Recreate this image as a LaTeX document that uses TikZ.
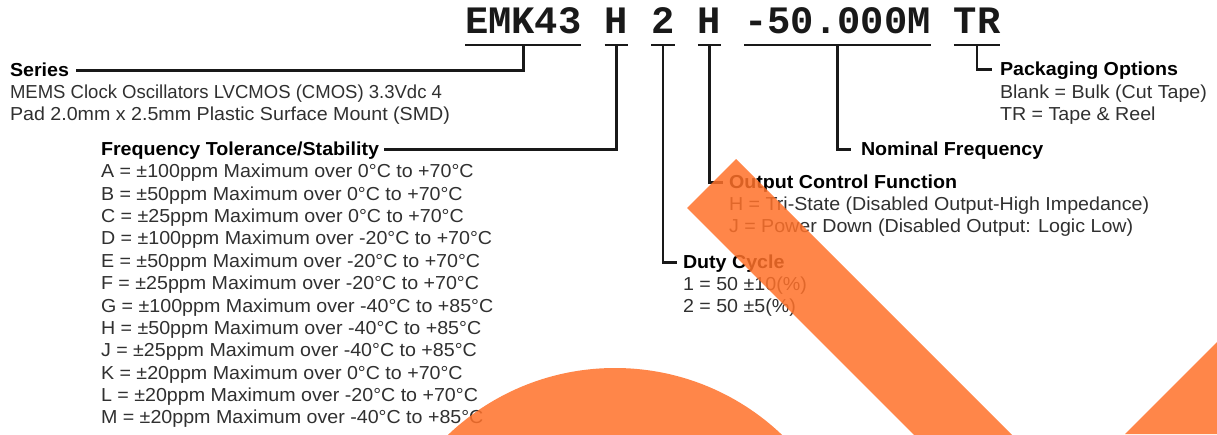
\documentclass[tikz,border=0pt]{standalone}
\usepackage{fontspec}
\setmainfont{Liberation Sans}[FakeStretch=1.045]
\newfontfamily\pnfont{Liberation Mono}
\definecolor{txt}{HTML}{303030}
\definecolor{wmorange}{RGB}{255,113,42}
\begin{document}
\begin{tikzpicture}[x=1pt,y=-1pt,
  body/.style={anchor=base west, inner sep=0pt, outer sep=0pt, text=txt, font=\fontsize{18.8}{22}\selectfont},
  head/.style={anchor=base west, inner sep=0pt, outer sep=0pt, text=black, font=\fontsize{18.8}{22}\selectfont\bfseries},
  pn/.style={anchor=base west, inner sep=0pt, outer sep=0pt, text=black!90, font=\fontsize{38.8}{40}\selectfont\pnfont\bfseries},
  uline/.style={line width=2.6pt, black!90},
  conn/.style={line width=2.6pt, black!90},
  wm/.style={fill=wmorange, fill opacity=0.85}]
\useasboundingbox (0,0) rectangle (1217,434);
\fill[white] (0,0) rectangle (1217,434);

% part number
\def\cw{23.28}
\node[pn] (emk) at (465,33) {EMK43};
\node[pn] (ph1) at (465+6*\cw,33) {H};
\node[pn] (pd) at (465+8*\cw,33) {2};
\node[pn] (ph2) at (465+10*\cw,33) {H};
\node[pn] (pf) at (465+12*\cw,33) {-50.000M};
\node[pn] (ptr) at (465+21*\cw,33) {TR};

\foreach \n in {emk,ph1,pd,ph2,pf,ptr}{
  \draw[uline] ([yshift=-12pt]\n.base west) -- ([yshift=-12pt]\n.base east);
}

% Series
\node[head] (series) at (10,76.5) {Series};
\node[body] (s1) at (10,98.5) {\scalebox{0.943}[1]{MEMS Clock Oscillators LVCMOS (CMOS) 3.3Vdc 4}};
\node[body] (s2) at (10,120.5) {Pad 2.0mm x 2.5mm Plastic Surface Mount (SMD)};

% Frequency tolerance
\node[head] (ftol) at (101,155.5) {Frequency Tolerance/Stability};
\foreach \t [count=\i] in {
  A = ±100ppm Maximum over 0°C to +70°C,
  B = ±50ppm Maximum over 0°C to +70°C,
  C = ±25ppm Maximum over 0°C to +70°C,
  D = ±100ppm Maximum over -20°C to +70°C,
  E = ±50ppm Maximum over -20°C to +70°C,
  F = ±25ppm Maximum over -20°C to +70°C,
  G = ±100ppm Maximum over -40°C to +85°C,
  H = ±50ppm Maximum over -40°C to +85°C,
  J = ±25ppm Maximum over -40°C to +85°C,
  K = ±20ppm Maximum over 0°C to +70°C,
  L = ±20ppm Maximum over -20°C to +70°C,
  M = ±20ppm Maximum over -40°C to +85°C}{
  \node[body] (f\i) at (101,155.5+\i*22.36) {\t};
}

% Duty cycle
\node[head] (duty) at (683,268.5) {Duty Cycle};
\node[body] (d1) at (683,290.5) {1 = 50 ±10(\%)};
\node[body] (d2) at (683,312.5) {2 = 50 ±5(\%)};

% Output control
\node[head] (ocf) at (729,188.5) {Output Control Function};
\node[body] (o1) at (729,210.5) {H = Tri-State (Disabled Output-High Impedance)};
\node[body] (o2) at (729,232.5) {J = Power Down (Disabled Output: Logic Low)};

% Nominal frequency
\node[head] (nom) at (861,155.5) {Nominal Frequency};

% Packaging
\node[head] (pack) at (1000,75.5) {Packaging Options};
\node[body] (k1) at (1000,98.5) {Blank = Bulk (Cut Tape)};
\node[body] (k2) at (1000,120.5) {TR = Tape \& Reel};

% connectors
\draw[conn] ([yshift=-12pt]emk.base) |- ([xshift=7pt,yshift=6pt]series.base east);
\draw[conn] ([yshift=-12pt]ph1.base) |- ([xshift=5pt,yshift=6pt]ftol.base east);
\draw[conn] ([yshift=-12pt]pd.base) |- ([xshift=-6pt,yshift=6pt]duty.base west);
\draw[conn] ([yshift=-12pt]ph2.base) |- ([xshift=-6pt,yshift=6pt]ocf.base west);
\draw[conn] ([yshift=-12pt]pf.base) |- ([xshift=-10pt,yshift=6pt]nom.base west);
\draw[conn] ([yshift=-12pt]ptr.base) |- ([xshift=-8pt,yshift=6pt]pack.base west);

% watermark shapes
\begin{scope}
\clip (0,0) rectangle (1217,434);
\fill[wm] (687,208) -- (736,159) -- (1041,464) -- (943,464) -- cycle;
\fill[wm] (1125,434) -- (1235,324) -- (1235,434) -- cycle;
\fill[wm] (615,610) circle (242);
\end{scope}
\end{tikzpicture}
\end{document}
